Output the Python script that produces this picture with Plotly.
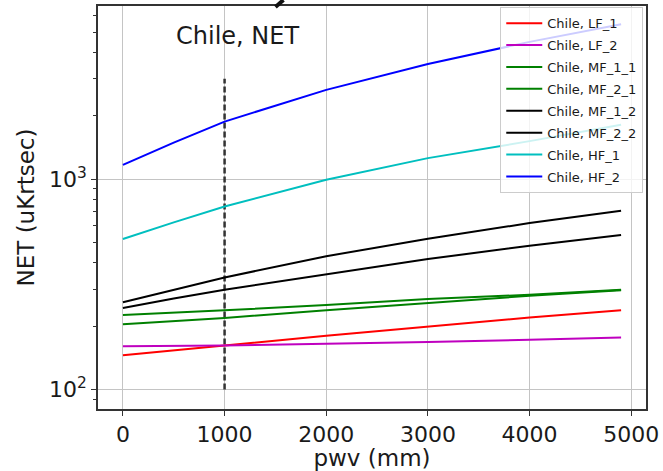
import numpy as np
import plotly.graph_objects as go

pwv = [0, 500, 1000, 2000, 3000, 4000, 4900]
series_names = ["Chile, LF_1", "Chile, LF_2", "Chile, MF_1_1", "Chile, MF_2_1",
                "Chile, MF_1_2", "Chile, MF_2_2", "Chile, HF_1", "Chile, HF_2"]
lf_1 = [145.5, 154, 162, 180, 199.6, 220, 238]
lf_2 = [160.5, 161, 162, 165, 168, 172.6, 176.6]
mf_1_1 = [226, 231, 238, 252, 269, 282, 298]
mf_2_1 = [204, 211, 219, 238, 258, 279, 296]
mf_1_2 = [260, 299, 341, 430, 521, 618, 707]
mf_2_2 = [244, 271, 298, 353, 417, 482, 542]
hf_1 = [519, 623, 741, 992, 1258, 1515, 1811]
hf_2 = [1169, 1490, 1876, 2654, 3526, 4488, 5444]
series_values = [lf_1, lf_2, mf_1_1, mf_2_1, mf_1_2, mf_2_2, hf_1, hf_2]
series_colors = ["#ff0000", "#bf00bf", "#008000", "#008000",
                 "#000000", "#000000", "#00bfbf", "#0000ff"]

marker_x = [1000, 1000]
marker_y = [100, 3000]

x_ticks = [0, 1000, 2000, 3000, 4000, 5000]
y_ticks = [100, 1000]
y_ticktext = ["10<sup>2</sup>", "10<sup>3</sup>"]
y_minor = [80, 90, 200, 300, 400, 500, 600, 700, 800, 900, 2000, 3000, 4000, 5000, 6000]

FONT = "DejaVu Sans"
fig = go.Figure()
fig.add_trace(go.Scatter(x=marker_x, y=marker_y, mode="lines", showlegend=False,
                         line=dict(color="#333333", width=2.5, dash="6px,3px")))
for name, vals, col in zip(series_names, series_values, series_colors):
    fig.add_trace(go.Scatter(x=pwv, y=vals, mode="lines", name=name,
                             line=dict(color=col, width=2),
                             legendgroup=name))

fig.add_annotation(x=500, y=np.log10(4000), xref="x", yref="y", text="Chile, NET",
                   showarrow=False, xanchor="left", yanchor="bottom",
                   font=dict(family=FONT, size=24, color="#1a1a1a"))

# small dark stroke cut off at the top of the screenshot
fig.add_shape(type="line", xref="paper", yref="paper",
              x0=(283 - 97.5) / 548.2, y0=1 + 6 / 403.5,
              x1=(275 - 97.5) / 548.2, y1=1 - 1 / 403.5,
              line=dict(color="#111111", width=4))

axis_common = dict(showline=True, mirror=True, linecolor="#333333", linewidth=1.5,
                   ticks="outside", ticklen=5, tickwidth=1, tickcolor="#333333",
                   showgrid=True, gridcolor="#c4c4c4", gridwidth=1, zeroline=False,
                   automargin=False,
                   tickfont=dict(family=FONT, size=22, color="#1a1a1a"))
fig.update_xaxes(range=[-245, 5145], tickvals=x_ticks,
                 title=dict(text="pwv (mm)", font=dict(family=FONT, size=23, color="#1a1a1a"), standoff=4),
                 **axis_common)
fig.update_yaxes(type="log", range=[1.9075, 3.8225], tickvals=y_ticks, ticktext=y_ticktext,
                 minor=dict(tickvals=y_minor, ticks="outside", ticklen=3, tickcolor="#333333", showgrid=False),
                 title=dict(text="NET (uKrtsec)", font=dict(family=FONT, size=23, color="#1a1a1a"), standoff=8),
                 **axis_common)

fig.update_layout(width=663, height=471, margin=dict(l=97.5, r=17.3, t=6, b=61.5, autoexpand=False),
                  paper_bgcolor="white", plot_bgcolor="white",
                  font=dict(family=FONT, color="#1a1a1a"),
                  legend=dict(x=0.995, y=0.997, xanchor="right", yanchor="top",
                              bgcolor="rgba(255,255,255,0.8)", bordercolor="#cccccc", borderwidth=1,
                              font=dict(family=FONT, size=13, color="#1a1a1a"),
                              tracegroupgap=2, itemwidth=36))
fig.write_html("out.html", config={"displayModeBar": False},
               post_script="document.body.style.margin='0';document.body.style.overflow='hidden';")
